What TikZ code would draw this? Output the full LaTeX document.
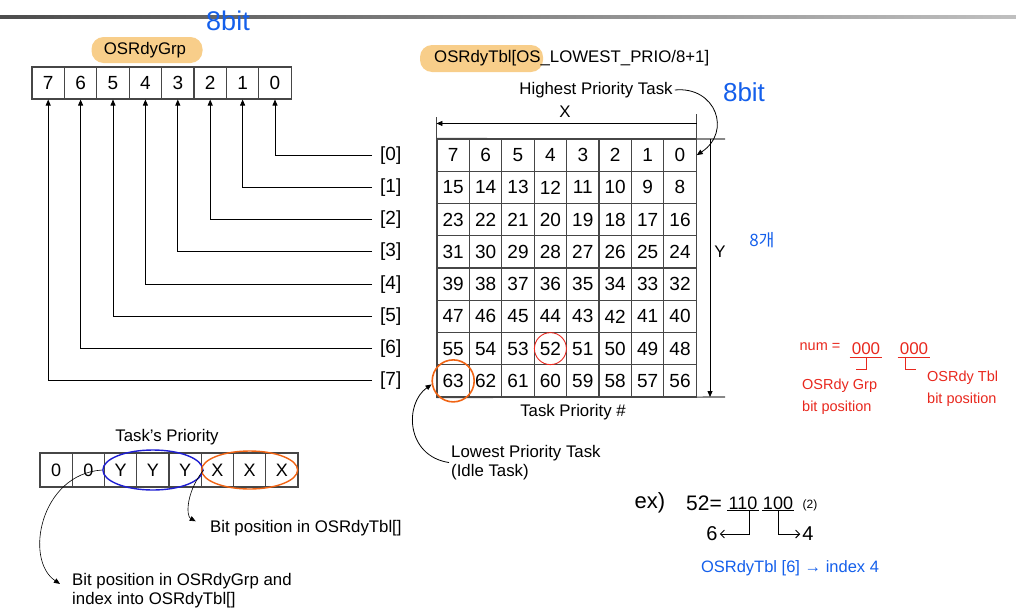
\documentclass[tikz,border=0pt]{standalone}
\usepackage{fontspec}
\setmainfont{Liberation Sans}
\newfontfamily\kofont{Noto Sans CJK KR}
\usetikzlibrary{arrows.meta,shapes.geometric}

\begin{document}
\begin{tikzpicture}[x=1pt, y=-1pt]
  % Colors
  \definecolor{hilite}{RGB}{248,206,138}
  \definecolor{penblue}{RGB}{20,95,235}
  \definecolor{penred}{RGB}{232,40,30}
  \definecolor{penorange}{RGB}{240,100,20}
  \definecolor{ovalblue}{RGB}{30,30,210}
  \definecolor{gridcol}{RGB}{70,70,70}
  %
  \def\cw{32.4}
  \def\ch{32.25}
  %
  \tikzset{
    cell/.style={draw=gridcol, line width=1.1pt, minimum width=\cw pt, minimum height=\ch pt,
                 inner sep=0pt, font=\fontsize{19}{19}\selectfont},
    pcell/.style={cell, minimum width=32.25pt, minimum height=34pt, font=\fontsize{18}{18}\selectfont},
    lbl/.style={inner sep=2pt, font=\fontsize{16.8}{19}\selectfont},
    link/.style={line width=0.8pt, -{Triangle[length=6pt, width=5pt]}},
    frame/.style={line width=1.1pt, draw=gridcol},
    hlbox/.style={fill=hilite, rounded corners=12pt, inner sep=0pt},
    ring/.style={circle, inner sep=0pt},
    oval/.style={ellipse, inner sep=0pt, line width=1.4pt},
    pen/.style={inner sep=2pt, font=\fontsize{14.5}{22}\selectfont},
    penarrow/.style={line width=0.9pt, -{Straight Barb[length=4pt]}},
  }
  %
  \useasboundingbox (0,0) rectangle (1016,608);
  \shade[left color=black!70, right color=black!25] (0,15.5) rectangle (1016,18.5);
  %
  %%% OSRdyGrp %%%
  \node[hlbox, minimum width=111pt, minimum height=26pt] (grphl) at (147,50) {};
  \node[lbl] (grplbl) at (145,50) {OSRdyGrp};
  \foreach \b in {0,...,7} {
    \node[cell, minimum height=32pt] (grp\b) at ({32+(7-\b)*\cw+\cw/2}, 83) {\b};
  }
  %
  % Row index lines
  \foreach \r in {0,...,7} {
    \node[lbl, anchor=west, inner xsep=8pt, font=\fontsize{19}{19}\selectfont] (row\r) at (372, {155.1+\r*\ch}) {[\r]};
    \draw[link] (row\r.west) -| (grp\r.south);
  }
  %
  %%% OSRdyTbl %%%
  \node[hlbox, minimum width=123pt, minimum height=27pt] (tblhl) at (481.5,58.5) {};
  \node[lbl, anchor=west] (tbllbl) at (432,58) {OSRdyTbl[OS\_LOWEST\_PRIO/8+1]};
  %
  \foreach \r in {0,...,7} {
    \foreach \c in {0,...,7} {
      \pgfmathtruncatemacro{\v}{8*\r+7-\c}
      \node[cell] (tbl-\r-\c) at ({437+\c*\cw+\cw/2}, {139+\r*\ch+\ch/2}) {\v};
    }
  }
  %
  % Frame, X and Y
  \coordinate (xl) at (tbl-0-0.north west);
  \coordinate (xr) at (tbl-0-7.north east);
  \draw[frame] (xl) -- ++(0,-21);
  \draw[frame] (xr) -- ++(0,-24);
  \draw[frame] (xl) -- (725,139);
  \draw[frame] (tbl-7-0.south west) -- (725,397);
  \draw[link, {Triangle[length=6pt, width=5pt]}-] ([yshift=15pt]xl) -- ([yshift=15pt]xr);
  \node[lbl] (xlbl) at (565,112) {X};
  \coordinate (ytop) at (710,139);
  \coordinate (ybot) at (710,397);
  \draw[link] (ytop) -- (ybot);
  \node[lbl] (ylbl) at (720,252) {Y};
  \node[lbl] (tpn) at (573,412) {Task Priority \#};
  %
  % Highest / lowest
  \node[lbl] (hp) at (596,90) {Highest Priority Task};
  \draw[link] (hp.east) .. controls (716,86) and (732,132) .. (tbl-0-7.east);
  \node[lbl, align=left, anchor=north west] (lp) at (449,443) {Lowest Priority Task\\(Idle Task)};
  \draw[link, shorten >=6pt] (lp.west) .. controls (406,456) and (404,404) .. (tbl-7-0.west);
  %
  \node[ring, draw=penred, line width=0.9pt, minimum size=32pt] (c52) at (tbl-6-3) {};
  \node[ring, draw=penorange, line width=1.6pt, minimum size=42pt] (c63) at (tbl-7-0) {};
  %
  %%% Task's Priority %%%
  \node[lbl] (tplbl) at (167,437) {Task's Priority};
  \foreach \c/\t in {0/0, 1/0, 2/Y, 3/Y, 4/Y, 5/X, 6/X, 7/X} {
    \node[pcell] (pri\c) at ({40+\c*32.25+16.1}, 470) {\t};
  }
  \node[oval, draw=ovalblue, minimum width=100pt, minimum height=40pt] (yyy) at (pri3) {};
  \node[oval, draw=penorange, minimum width=96pt, minimum height=38pt] (xxx) at (pri6) {};
  %
  \node[lbl, anchor=west] (bptbl) at (208,528) {Bit position in OSRdyTbl[]};
  \node[lbl, align=left, anchor=north west] (bpgrp) at (70,571) {Bit position in OSRdyGrp and\\index into OSRdyTbl[]};
  \draw[link, line width=0.6pt, shorten >=12pt] (yyy.west) .. controls (40,474) and (24,560) .. (bpgrp.west);
  \draw[link, line width=0.6pt, shorten >=14pt] (yyy.east) .. controls (186,492) and (186,516) .. (bptbl.west);
  %
  %%% Handwritten notes %%%
  \node[pen, text=penblue, font=\fontsize{27}{27}\selectfont] (grpbits8) at (228,21) {8bit};
  \node[pen, text=penblue, font=\fontsize{26}{26}\selectfont] (tblbits8) at (744,92) {8bit};
  \node[pen, text=penblue, font=\fontsize{17}{17}\kofont] (rows8) at (762,240) {8개};
  %
  % num = 000 000
  \node[pen, text=penred] (num) at (820,347) {num =};
  \node[pen, text=penred, font=\fontsize{17}{17}\selectfont] (grpbits) at (866,349) {000};
  \node[pen, text=penred, font=\fontsize{17}{17}\selectfont] (tblbits) at (914,349) {000};
  \draw[penred, line width=0.9pt] (grpbits.south west) -- (grpbits.south east);
  \draw[penred, line width=0.9pt] (tblbits.south west) -- (tblbits.south east);
  \draw[penred, line width=0.9pt] (grpbits.south) -- ++(0,12) -- ++(-10,0);
  \draw[penred, line width=0.9pt] ([xshift=8pt]tblbits.south west) -- ++(0,12) -- ++(10,0);
  \node[pen, text=penred, align=left, anchor=north west] (grpnote) at (800,377) {OSRdy Grp\\bit position};
  \node[pen, text=penred, align=left, anchor=north west] (tblnote) at (925,369) {OSRdy Tbl\\bit position};
  %
  % ex) 52 = 110 100 (2)
  \node[pen, font=\fontsize{22}{22}\selectfont] (ex) at (650,503) {ex)};
  \node[pen, font=\fontsize{21}{21}\selectfont] (val) at (704,503) {52=};
  \node[pen, font=\fontsize{18}{18}\selectfont, inner sep=1pt] (hi) at (743,503) {110};
  \node[pen, font=\fontsize{18}{18}\selectfont, inner sep=1pt] (lo) at (778,503) {100};
  \node[pen, font=\fontsize{12}{12}\selectfont] (base) at (810,505) {(2)};
  \draw[line width=0.9pt] (hi.south west) -- (hi.south east);
  \draw[line width=0.9pt] (lo.south west) -- (lo.south east);
  \node[pen, font=\fontsize{20}{20}\selectfont] (six) at (712,534) {6};
  \node[pen, font=\fontsize{20}{20}\selectfont] (four) at (808,534) {4};
  \draw[penarrow] ([xshift=6pt]hi.south) |- (six.east);
  \draw[penarrow] (lo.south) |- (four.west);
  \node[pen, text=penblue, font=\fontsize{16.5}{16.5}\selectfont] (ex2) at (790,568) {OSRdyTbl [6] → index 4};
\end{tikzpicture}
\end{document}
